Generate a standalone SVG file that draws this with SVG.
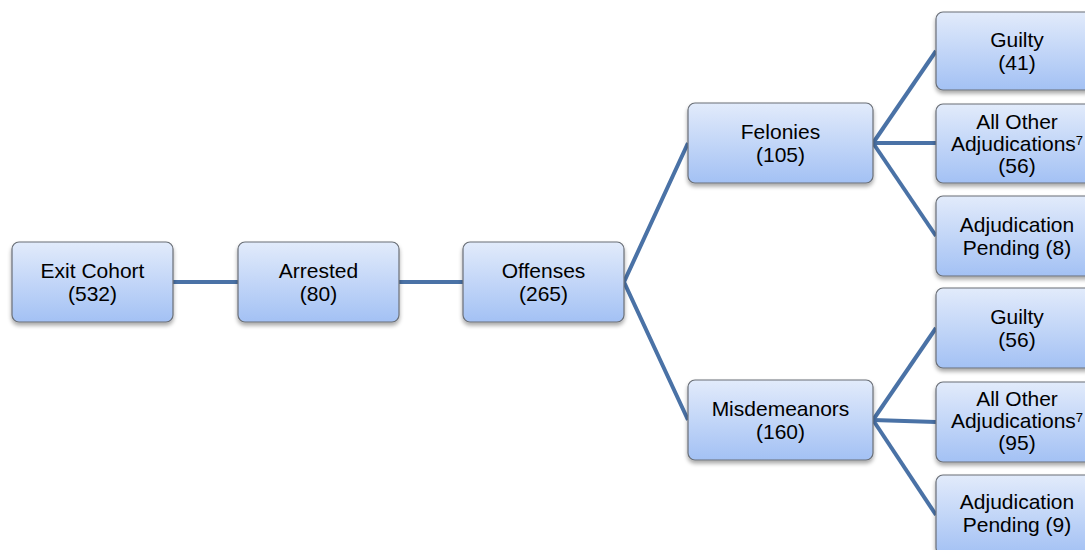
<svg xmlns="http://www.w3.org/2000/svg" width="1085" height="550" viewBox="0 0 1085 550">
<defs>
<linearGradient id="g" x1="0" y1="0" x2="0" y2="1">
<stop offset="0" stop-color="#e2ebfb"/>
<stop offset="1" stop-color="#a3c1f4"/>
</linearGradient>
<filter id="sh" x="-10%" y="-10%" width="120%" height="130%">
<feGaussianBlur in="SourceAlpha" stdDeviation="2"/>
<feOffset dx="0" dy="3" result="b"/>
<feComponentTransfer><feFuncA type="linear" slope="0.35"/></feComponentTransfer>
<feMerge><feMergeNode/><feMergeNode in="SourceGraphic"/></feMerge>
</filter>
</defs>
<style>
.box{fill:url(#g);stroke:#6a6f77;stroke-width:1.2;filter:url(#sh)}
.t{font-family:"Liberation Sans",Arial,sans-serif;font-size:21px;fill:#000;text-anchor:middle}
.c{stroke:#4a72a6;stroke-width:4;fill:none}
</style>
<rect width="1085" height="550" fill="#fff"/>
<g id="connectors">
<line class="c" x1="173" y1="282" x2="238" y2="282"/>
<line class="c" x1="399" y1="282" x2="463" y2="282"/>
<polyline class="c" points="688,143 624,282 688,420"/>
<line class="c" x1="873" y1="143" x2="936" y2="51"/>
<line class="c" x1="873" y1="143" x2="936" y2="143"/>
<line class="c" x1="873" y1="143" x2="936" y2="236"/>
<line class="c" x1="873" y1="420" x2="936" y2="328"/>
<line class="c" x1="873" y1="420" x2="936" y2="422"/>
<line class="c" x1="873" y1="420" x2="936" y2="515"/>
</g>
<g id="exit-cohort"><rect class="box" x="12" y="242" width="161" height="80" rx="7"/><text class="t" x="92.5" y="278">Exit Cohort</text><text class="t" x="92.5" y="301">(532)</text></g>
<g id="arrested"><rect class="box" x="238" y="242" width="161" height="80" rx="7"/><text class="t" x="318.5" y="278">Arrested</text><text class="t" x="318.5" y="301">(80)</text></g>
<g id="offenses"><rect class="box" x="463" y="242" width="161" height="80" rx="7"/><text class="t" x="543.5" y="278">Offenses</text><text class="t" x="543.5" y="301">(265)</text></g>
<g id="felonies"><rect class="box" x="688" y="103" width="185" height="80" rx="7"/><text class="t" x="780.5" y="139">Felonies</text><text class="t" x="780.5" y="162">(105)</text></g>
<g id="misdemeanors"><rect class="box" x="688" y="380" width="185" height="80" rx="7"/><text class="t" x="780.5" y="416">Misdemeanors</text><text class="t" x="780.5" y="439">(160)</text></g>
<g id="f-guilty"><rect class="box" x="936" y="12" width="162" height="78" rx="7"/><text class="t" x="1017" y="47">Guilty</text><text class="t" x="1017" y="70">(41)</text></g>
<g id="f-other"><rect class="box" x="936" y="104" width="162" height="79" rx="7"/><text class="t" x="1017" y="129">All Other</text><text class="t" x="1017" y="151">Adjudications<tspan font-size="13" dy="-6">7</tspan></text><text class="t" x="1017" y="173">(56)</text></g>
<g id="f-pending"><rect class="box" x="936" y="196" width="162" height="80" rx="7"/><text class="t" x="1017" y="232">Adjudication</text><text class="t" x="1017" y="255">Pending (8)</text></g>
<g id="m-guilty"><rect class="box" x="936" y="288" width="162" height="80" rx="7"/><text class="t" x="1017" y="324">Guilty</text><text class="t" x="1017" y="347">(56)</text></g>
<g id="m-other"><rect class="box" x="936" y="382" width="162" height="80" rx="7"/><text class="t" x="1017" y="406">All Other</text><text class="t" x="1017" y="428">Adjudications<tspan font-size="13" dy="-6">7</tspan></text><text class="t" x="1017" y="450">(95)</text></g>
<g id="m-pending"><rect class="box" x="936" y="475" width="162" height="80" rx="7"/><text class="t" x="1017" y="509">Adjudication</text><text class="t" x="1017" y="532">Pending (9)</text></g>
</svg>
